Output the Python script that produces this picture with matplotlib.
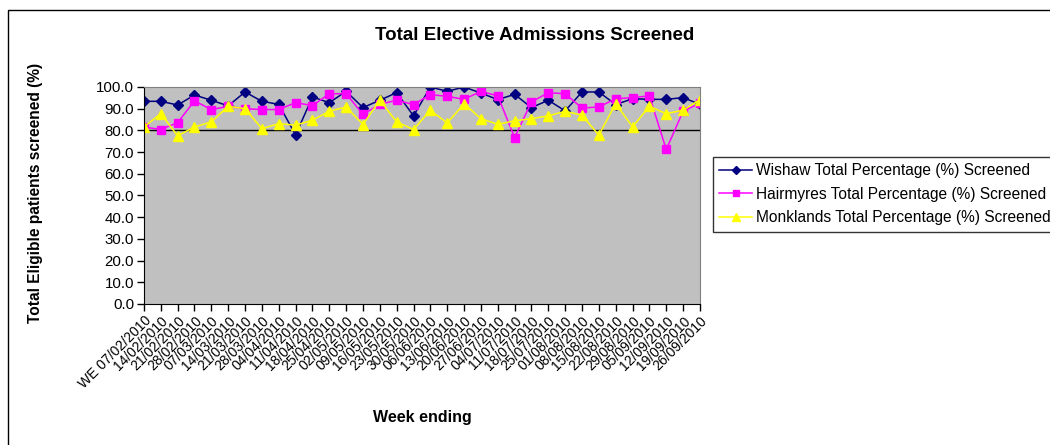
# Total Elective Admissions Screened - weekly screening % by hospital
import matplotlib
matplotlib.use('Agg')
import matplotlib.pyplot as plt
from matplotlib.patches import Rectangle

plt.rcParams['font.family'] = ['Liberation Sans', 'DejaVu Sans']

# Week ending dates
weeks = ['WE 07/02/2010', '14/02/2010', '21/02/2010', '28/02/2010', '07/03/2010',
         '14/03/2010', '21/03/2010', '28/03/2010', '04/04/2010', '11/04/2010',
         '18/04/2010', '25/04/2010', '02/05/2010', '09/05/2010', '16/05/2010',
         '23/05/2010', '30/05/2010', '06/06/2010', '13/06/2010', '20/06/2010',
         '27/06/2010', '04/07/2010', '11/07/2010', '18/07/2010', '25/07/2010',
         '01/08/2010', '08/08/2010', '15/08/2010', '22/08/2010', '29/08/2010',
         '05/09/2010', '12/09/2010', '19/09/2010', '26/09/2010']

# Percentage screened per hospital
wishaw = [93.4, 93.4, 91.7, 96.3, 93.9, 91.3, 97.7, 93.4, 92.0, 77.9,
          95.4, 92.8, 98.0, 90.5, 93.9, 97.4, 86.7, 100.0, 98.0, 100.0,
          97.2, 94.2, 96.6, 90.5, 93.9, 89.0, 97.7, 97.7, 91.9, 94.6,
          94.3, 94.3, 95.1, 92.0]
hairmyres = [81.6, 80.4, 83.6, 93.6, 89.6, 91.1, 90.0, 89.6, 89.6, 92.8,
             91.4, 96.9, 96.9, 87.4, 92.0, 93.9, 91.9, 96.5, 95.7, 94.3,
             98.0, 95.9, 76.7, 93.1, 97.4, 96.9, 90.3, 90.8, 94.6, 95.1,
             95.9, 71.2, 88.8, 92.6]
monklands = [81.6, 87.7, 77.5, 81.6, 83.9, 91.1, 90.0, 80.8, 83.1, 82.4,
             84.7, 88.8, 90.8, 82.7, 93.9, 83.9, 80.4, 89.3, 83.4, 92.3,
             85.4, 82.8, 84.4, 85.4, 86.7, 88.8, 87.0, 77.8, 92.3, 81.6,
             91.1, 87.7, 89.3, 94.2]

target = 80

fig = plt.figure(figsize=(10.5, 4.45), dpi=100)
ax = fig.add_axes([0.1371, 0.3169, 0.5295, 0.4876])
ax.set_facecolor('#C0C0C0')

x = range(len(weeks))
ax.plot(x, wishaw, color='#000080', marker='D', markersize=5.5, lw=1.1,
        label='Wishaw Total Percentage (%) Screened')
ax.plot(x, hairmyres, color='#FF00FF', marker='s', markersize=6, lw=1.1,
        label='Hairmyres Total Percentage (%) Screened')
ax.plot(x, monklands, color='#FFFF00', marker='^', markersize=7, lw=1.1,
        label='Monklands Total Percentage (%) Screened')
ax.axhline(target, color='black', lw=1, zorder=1)

ax.set_xlim(0, len(weeks) - 1)
ax.set_ylim(0, 100)
ax.set_yticks(range(0, 101, 10))
ax.set_yticklabels(['%.1f' % v for v in range(0, 101, 10)], fontsize=10.8)
ax.set_xticks(list(x))
ax.set_xticklabels(weeks, rotation=45, ha='right', rotation_mode='anchor', fontsize=10)
ax.tick_params(direction='out', length=5, width=1, color='black', pad=2)

for s in ['top', 'right']:
    ax.spines[s].set_color('#808080')
for s in ['left', 'bottom']:
    ax.spines[s].set_color('black')

fig.text(0.5095, 0.921, 'Total Elective Admissions Screened', ha='center', va='center',
         fontsize=13.5, fontweight='bold')
fig.text(0.034, 0.567, 'Total Eligible patients screened (%)', rotation=90, ha='center',
         va='center', fontsize=11.2, fontweight='bold')
fig.text(0.402, 0.0607, 'Week ending', ha='center', va='center', fontsize=11.5,
         fontweight='bold')

leg = ax.legend(loc='upper left', bbox_to_anchor=(713 / 1050, 1 - 157 / 445),
                bbox_transform=fig.transFigure, fontsize=11.2, frameon=True,
                fancybox=False, edgecolor='black', borderpad=0.4,
                handlelength=2.1, handletextpad=0.25, labelspacing=0.55,
                borderaxespad=0, markerscale=0.8)
leg.get_frame().set_linewidth(1)

# outer chart area border
fig.patches.append(Rectangle((8 / 1050, -0.1), 1.2, 1.1 - 10 / 445,
                             transform=fig.transFigure, fill=False,
                             edgecolor='black', lw=1))

fig.savefig('out.png', dpi=100)
